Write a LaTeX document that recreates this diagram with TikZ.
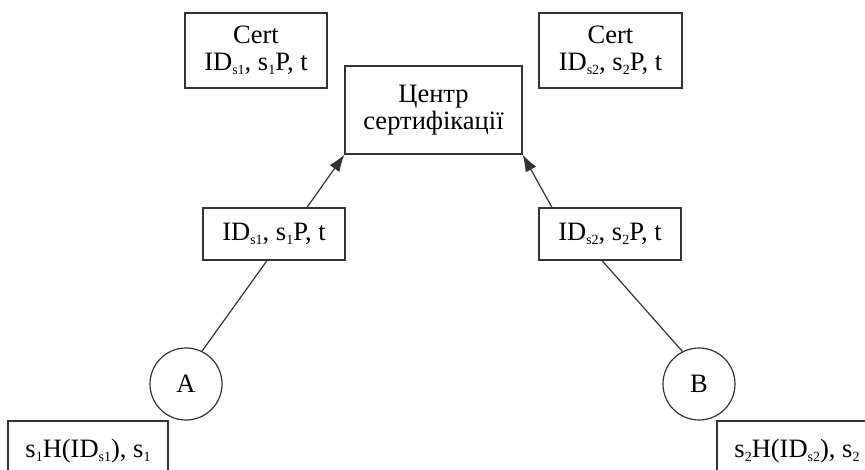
\documentclass[tikz,border=0pt]{standalone}
\usepackage{fontspec}
\setmainfont{Liberation Serif}
\usetikzlibrary{arrows.meta}
\newcommand{\lo}[1]{\raisebox{-4pt}{\fontsize{14}{14}\selectfont #1}}

\begin{document}
\begin{tikzpicture}[x=1pt,y=-1pt,
    box/.style={draw=kGrey,line width=1.2pt,fill=white,inner sep=0pt,align=center,
                font=\fontsize{26.5}{27}\selectfont},
    party/.style={draw=kGrey,line width=1.2pt,circle,minimum size=72pt,inner sep=0pt,
                  font=\fontsize{26.5}{27}\selectfont},
    link/.style={color=kGrey,line width=1.2pt},
    sendto/.style={link,-{Latex[length=17pt,width=12pt]}}]
  \definecolor{kGrey}{rgb}{0.2,0.2,0.2}

  \useasboundingbox (0,0) rectangle (865,470);
  \clip (0,0) rectangle (865,470);

  \node[box,minimum width=142pt,minimum height=75pt] (certA) at (256,50.5)
    {Cert\\ID\lo{s1}, s\lo{1}P, t};
  \node[box,minimum width=143pt,minimum height=75pt] (certB) at (610.5,50.5)
    {Cert\\ID\lo{s2}, s\lo{2}P, t};
  \node[box,minimum width=177pt,minimum height=88pt] (ca) at (433.5,110)
    {Центр\\сертифікації};

  \node[box,minimum width=142pt,minimum height=52pt] (msgA) at (274,234)
    {ID\lo{s1}, s\lo{1}P, t};
  \node[box,minimum width=142pt,minimum height=52pt] (msgB) at (610,234)
    {ID\lo{s2}, s\lo{2}P, t};

  \node[party] (A) at (186,384) {A};
  \node[party] (B) at (699,384) {B};

  \node[box,minimum width=160pt,minimum height=60pt] (keyA) at (88,451)
    {s\lo{1}H(ID\lo{s1}), s\lo{1}};
  \node[box,minimum width=160pt,minimum height=60pt] (keyB) at (797,451)
    {s\lo{2}H(ID\lo{s2}), s\lo{2}};

  \draw[link] (A.64) -- ([xshift=-7pt]msgA.south);
  \draw[sendto] ([xshift=33pt]msgA.north) -- (ca.south west);
  \draw[link] (B.117) -- ([xshift=-8pt]msgB.south);
  \draw[sendto] ([xshift=-58pt]msgB.north) -- (ca.south east);
\end{tikzpicture}
\end{document}
